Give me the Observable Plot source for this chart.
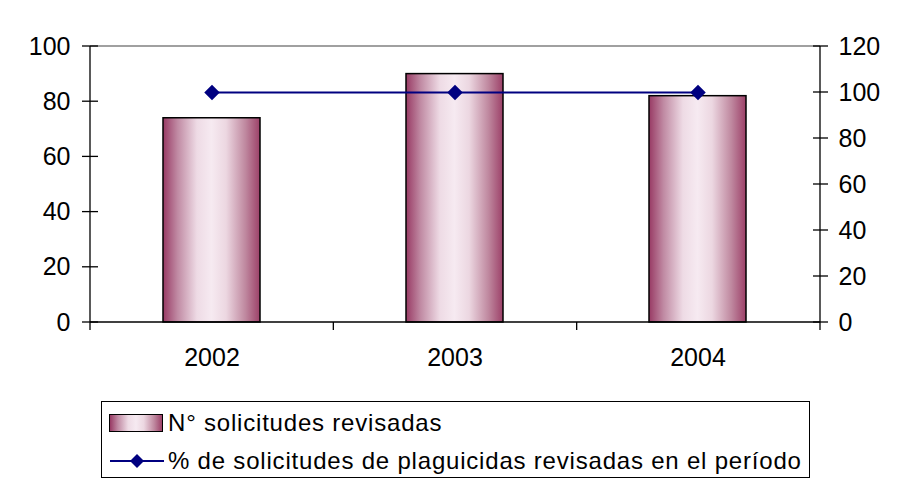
<!DOCTYPE html>
<html>
<head>
<meta charset="utf-8">
<script src="https://cdn.jsdelivr.net/npm/d3@7"></script>
<script src="https://cdn.jsdelivr.net/npm/@observablehq/plot@0.6"></script>
<style>
  html, body { margin: 0; padding: 0; background: #fff; }
  body { width: 900px; height: 486px; position: relative; overflow: hidden;
         font-family: "Liberation Sans", Arial, sans-serif; }
  #chart { position: absolute; left: 0; top: 0; }
  #chart svg text { font-size: 25px; font-family: "Liberation Sans", Arial, sans-serif; fill: #000; }
  #legend { position: absolute; left: 101px; top: 401px; width: 709px; height: 77px;
            box-sizing: border-box; border: 1px solid #000; font-size: 24px; letter-spacing: 0.8px; color: #000; }
  .row { position: absolute; left: 0; display: flex; align-items: center; white-space: nowrap; }
  .sw { width: 52px; height: 16px; border: 1.5px solid #000; margin-left: 7px; margin-right: 5px;
        background: linear-gradient(to right, #983a64 0%, #c08aa3 15%, #eedbe5 35%, #f6eaf1 50%, #ecd7e1 65%, #bf889f 85%, #9c4068 100%); }
</style>
</head>
<body>
<div id="chart"></div>
<div id="legend">
  <div class="row" style="top:7px;"><div class="sw"></div><span>N° solicitudes revisadas</span></div>
  <div class="row" style="top:45px;"><svg width="60" height="20" style="margin-left:6px;margin-right:0px;">
    <line x1="2" y1="10" x2="56" y2="10" stroke="#000080" stroke-width="2"/>
    <path d="M29,3 L36,10 L29,17 L22,10 Z" fill="#000080"/>
  </svg><span>% de solicitudes de plaguicidas revisadas en el período</span></div>
</div>
<script>
const years = ["2002", "2003", "2004"];
const solicitudes = [74, 90, 82];
const porcentaje = [100, 100, 100];
const leftTicks = [0, 20, 40, 60, 80, 100];
const rightTicks = [0, 20, 40, 60, 80, 100, 120];
const leftMax = 100, rightMax = 120;

const table = years.map((y, i) => ({year: y, n: solicitudes[i], pct: porcentaje[i]}));
const toLeft = v => v * leftMax / rightMax;

function frameAndTicks(index, scales, values, dimensions) {
  const {width, height, marginLeft, marginRight, marginTop, marginBottom} = dimensions;
  const x0 = marginLeft, x1 = width - marginRight, y0 = marginTop, y1 = height - marginBottom;
  const g = d3.create("svg:g").attr("fill", "none").attr("stroke-width", 1.3);
  g.append("line").attr("x1", x0).attr("x2", x1).attr("y1", y0).attr("y2", y0).attr("stroke", "#808080");
  g.append("line").attr("x1", x0).attr("x2", x0).attr("y1", y0).attr("y2", y1).attr("stroke", "#000");
  g.append("line").attr("x1", x1).attr("x2", x1).attr("y1", y0).attr("y2", y1).attr("stroke", "#000");
  g.append("line").attr("x1", x0).attr("x2", x1).attr("y1", y1).attr("y2", y1).attr("stroke", "#000");
  for (const t of leftTicks) {
    const y = scales.y(t);
    g.append("line").attr("x1", x0 - 8).attr("x2", x0 + 8).attr("y1", y).attr("y2", y).attr("stroke", "#000");
  }
  for (const t of rightTicks) {
    const y = scales.y(toLeft(t));
    g.append("line").attr("x1", x1 - 7).attr("x2", x1 + 8).attr("y1", y).attr("y2", y).attr("stroke", "#000");
  }
  const n = years.length;
  for (let i = 0; i <= n; i++) {
    const x = x0 + i * (x1 - x0) / n;
    g.append("line").attr("x1", x).attr("x2", x).attr("y1", y1).attr("y2", y1 + 8).attr("stroke", "#000");
  }
  return g.node();
}

const plot = Plot.plot({
  width: 900,
  height: 390,
  marginLeft: 90,
  marginRight: 80,
  marginTop: 46,
  marginBottom: 68,
  style: {fontFamily: "'Liberation Sans', Arial, sans-serif", fontSize: "25px", color: "#000", background: "#fff", overflow: "visible"},
  x: {type: "band", domain: years, paddingInner: 0.6, paddingOuter: 0.3, label: null},
  y: {domain: [0, leftMax], label: null},
  marks: [
    Plot.barY(table, {x: "year", y: "n", fill: "url(#barGrad)", stroke: "#000", strokeWidth: 1.5}),
    frameAndTicks,
    Plot.axisY(leftTicks, {anchor: "left", tickSize: 0, tickPadding: 20, label: null}),
    Plot.axisY(rightTicks.map(toLeft), {anchor: "right", tickSize: 0, tickPadding: 18, label: null,
      tickFormat: d => String(Math.round(d * rightMax / leftMax))}),
    Plot.axisX({tickSize: 0, tickPadding: 26, label: null}),
    Plot.line(table, {x: "year", y: d => toLeft(d.pct), stroke: "#000080", strokeWidth: 2}),
    Plot.dot(table, {x: "year", y: d => toLeft(d.pct), symbol: "diamond2", r: 7, fill: "#000080", stroke: "none"})
  ]
});

const defs = d3.select(plot).insert("defs", ":first-child");
const grad = defs.append("linearGradient").attr("id", "barGrad").attr("x1", "0").attr("x2", "1").attr("y1", "0").attr("y2", "0");
[["0%", "#983a64"], ["15%", "#c08aa3"], ["35%", "#eedbe5"], ["50%", "#f6eaf1"], ["65%", "#ecd7e1"], ["85%", "#bf889f"], ["100%", "#9c4068"]]
  .forEach(([o, c]) => grad.append("stop").attr("offset", o).attr("stop-color", c));

document.getElementById("chart").appendChild(plot);
</script>
</body>
</html>
